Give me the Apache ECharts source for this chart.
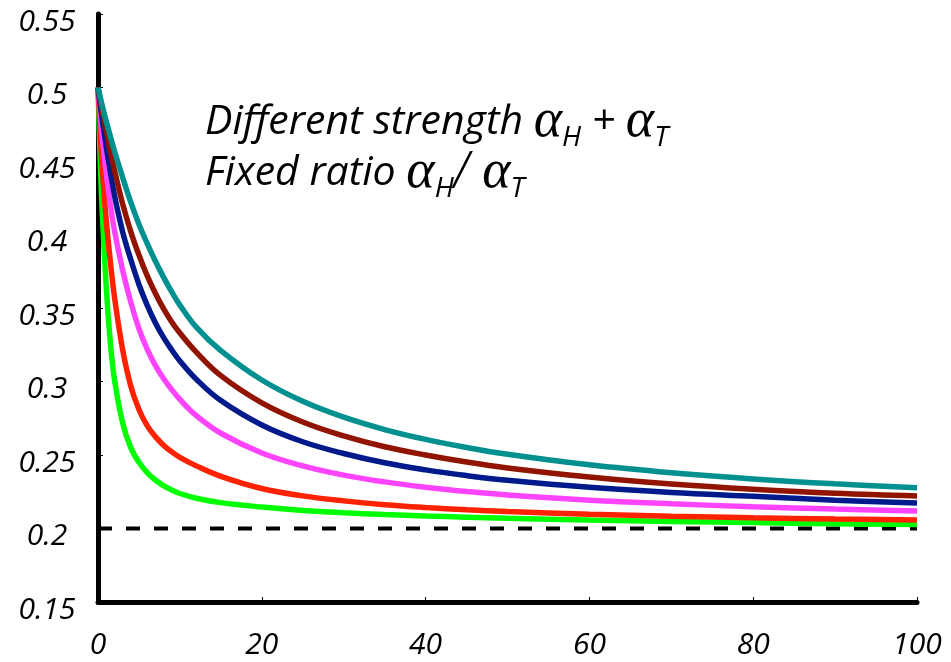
<!DOCTYPE html>
<html>
<head>
<meta charset="utf-8">
<script src="https://cdn.jsdelivr.net/npm/echarts@6/dist/echarts.min.js"></script>
<style>
  html, body { margin: 0; background: #fff; }
  #chart { width: 951px; height: 662px; }
</style>
</head>
<body>
<div id="chart"></div>
<script>
var xs = [0, 0.25, 0.5, 1, 1.5, 2, 3, 4, 5, 6, 7, 8, 9, 10, 12, 15, 20, 25, 30, 35, 40, 45, 50, 60, 70, 80, 90, 100]

// one curve per strength, weakest (top) to strongest (bottom)
var tealVals  = [0.5, 0.494, 0.488, 0.477, 0.467, 0.457, 0.439, 0.422, 0.407, 0.394, 0.382, 0.371, 0.361, 0.352, 0.337, 0.321, 0.301, 0.2865, 0.2757, 0.2673, 0.2606, 0.2551, 0.2505, 0.2433, 0.2379, 0.2337, 0.2304, 0.2278]
var brownVals = [0.5, 0.492, 0.485, 0.471, 0.457, 0.444, 0.421, 0.402, 0.386, 0.372, 0.360, 0.3495, 0.3405, 0.333, 0.320, 0.304, 0.2855, 0.2725, 0.263, 0.2556, 0.250, 0.2452, 0.2412, 0.235, 0.2303, 0.2267, 0.2239, 0.2221]
var blueVals  = [0.5, 0.489, 0.479, 0.460, 0.443, 0.427, 0.402, 0.383, 0.366, 0.352, 0.340, 0.330, 0.3215, 0.314, 0.3015, 0.287, 0.2704, 0.259, 0.251, 0.2447, 0.2399, 0.236, 0.2328, 0.228, 0.2245, 0.2219, 0.2193, 0.2173]
var pinkVals  = [0.5, 0.483, 0.467, 0.442, 0.421, 0.403, 0.376, 0.354, 0.336, 0.322, 0.311, 0.302, 0.2945, 0.2878, 0.2768, 0.2648, 0.2514, 0.2426, 0.2363, 0.2317, 0.2281, 0.2252, 0.2228, 0.2193, 0.2168, 0.2148, 0.2132, 0.2119]
var redVals   = [0.5, 0.472, 0.447, 0.410, 0.382, 0.358, 0.322, 0.297, 0.281, 0.270, 0.2625, 0.2567, 0.2521, 0.2484, 0.2426, 0.2355, 0.2272, 0.2222, 0.2188, 0.2162, 0.2143, 0.2128, 0.2116, 0.2097, 0.2083, 0.2073, 0.2065, 0.2058]
var greenVals = [0.5, 0.455, 0.418, 0.365, 0.327, 0.302, 0.272, 0.255, 0.245, 0.238, 0.233, 0.2292, 0.2262, 0.2238, 0.2206, 0.2176, 0.2146, 0.2123, 0.2107, 0.2095, 0.2085, 0.2077, 0.2069, 0.2057, 0.2048, 0.2040, 0.2033, 0.2027]

// dashed asymptote
var floorX = [0, 100]
var floorY = [0.2, 0.2]

function pairs(x, y) {
  return x.map(function (v, i) { return [v, y[i]] })
}

var curves = [
  { name: 'green', color: '#00ff00', vals: greenVals },
  { name: 'red',   color: '#ff2200', vals: redVals },
  { name: 'pink',  color: '#ff44ff', vals: pinkVals },
  { name: 'blue',  color: '#001a8c', vals: blueVals },
  { name: 'brown', color: '#901400', vals: brownVals },
  { name: 'teal',  color: '#009090', vals: tealVals }
]

var labelFont = {
  fontFamily: 'Open Sans',
  fontStyle: 'italic',
  fontSize: 30,
  color: '#000'
}

var series = [{
  type: 'line',
  data: pairs(floorX, floorY),
  symbol: 'none',
  silent: true,
  lineStyle: { color: '#000', width: 4, type: [14, 14] },
  z: 1
}]
curves.forEach(function (c) {
  series.push({
    name: c.name,
    type: 'line',
    data: pairs(xs, c.vals),
    symbol: 'none',
    smooth: 0.4,
    lineStyle: { color: c.color, width: 5.5 },
    z: 2
  })
})

var rich = {
  t: { fontFamily: 'Open Sans', fontStyle: 'italic', fontSize: 41, lineHeight: 60, color: '#000' },
  a: { fontFamily: 'Liberation Serif', fontStyle: 'italic', fontSize: 54, lineHeight: 60, color: '#000' },
  s: { fontFamily: 'Open Sans', fontStyle: 'italic', fontSize: 28, lineHeight: 30, verticalAlign: 'bottom', color: '#000' }
}

var chart = echarts.init(document.getElementById('chart'))
chart.setOption({
  animation: false,
  backgroundColor: '#fff',
  grid: { left: 98, right: 34, top: 14, bottom: 60 },
  xAxis: {
    type: 'value',
    min: 0,
    max: 100,
    interval: 20,
    axisLine: { lineStyle: { color: '#000', width: 5 } },
    axisTick: { inside: true, length: 5, lineStyle: { color: '#000', width: 1 } },
    splitLine: { show: false },
    axisLabel: Object.assign({ margin: 28, lineHeight: 30 }, labelFont)
  },
  yAxis: {
    type: 'value',
    min: 0.15,
    max: 0.55,
    interval: 0.05,
    axisLine: { show: true, lineStyle: { color: '#000', width: 5 } },
    axisTick: { show: true, inside: true, length: 5, lineStyle: { color: '#000', width: 1 } },
    splitLine: { show: false },
    axisLabel: Object.assign({
      margin: 51,
      align: 'center',
      verticalAlign: 'top',
      lineHeight: 16,
      formatter: function (v) { return String(+v.toFixed(2)) }
    }, labelFont)
  },
  graphic: [
    {
      type: 'text', left: 205, top: 95,
      style: { text: '{t|Different strength }{a|α}{s|H}{t| + }{a|α}{s|T}', rich: rich }
    },
    {
      type: 'text', left: 205, top: 146,
      style: { text: '{t|Fixed ratio }{a|α}{s|H}{a|/ }{a|α}{s|T}', rich: rich }
    }
  ],
  series: series
})
</script>
</body>
</html>
